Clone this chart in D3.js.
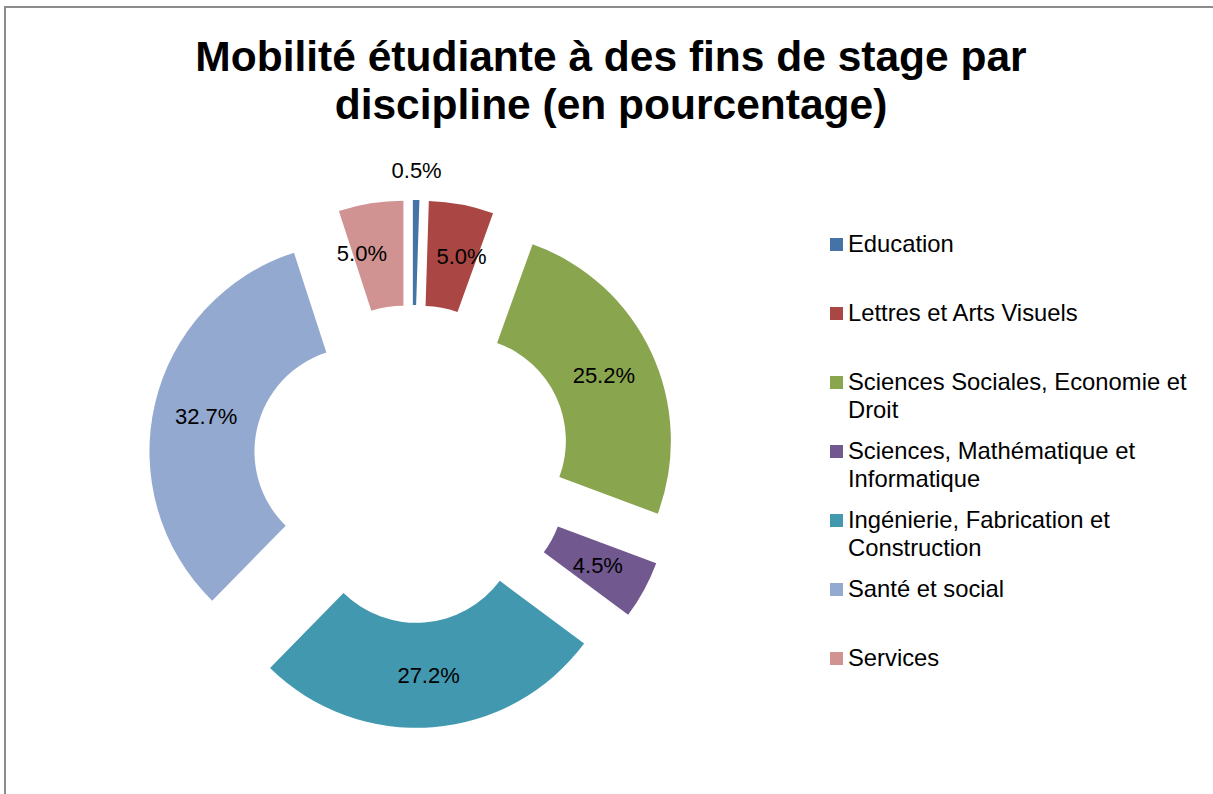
<!DOCTYPE html>
<html>
<head>
<meta charset="utf-8">
<script src="https://cdn.jsdelivr.net/npm/d3@7"></script>
<style>
  body { margin: 0; background: #fff; }
  svg { font-family: "Liberation Sans", Arial, sans-serif; }
</style>
</head>
<body>
<svg id="chart" width="1213" height="794"></svg>
<script>
// data
const categories = [
  "Education",
  "Lettres et Arts Visuels",
  "Sciences Sociales, Economie et Droit",
  "Sciences, Mathématique et Informatique",
  "Ingénierie, Fabrication et Construction",
  "Santé et social",
  "Services"
];
const values = [0.5, 5.0, 25.2, 4.5, 27.2, 32.7, 5.0];
const colors = ["#4573A7", "#AA4643", "#89A54E", "#71588F", "#4198AF", "#93A9CF", "#D19392"];
const titleLines = ["Mobilité étudiante à des fins de stage par", "discipline (en pourcentage)"];

const data = categories.map((c, i) => ({ name: c, value: values[i], color: colors[i] }));

const svg = d3.select("#chart");

// outer frame (only top and left edges show)
svg.append("rect")
  .attr("x", 5).attr("y", 7)
  .attr("width", 1300).attr("height", 1000)
  .attr("fill", "none")
  .attr("stroke", "#8c8c8c")
  .attr("stroke-width", 2);

// title
svg.append("text")
  .attr("x", 611)
  .attr("text-anchor", "middle")
  .style("font-weight", "bold")
  .style("font-size", "42.5px")
  .selectAll("tspan")
  .data(titleLines)
  .join("tspan")
    .attr("x", 611)
    .attr("y", (d, i) => 71 + i * 48)
    .text(d => d);

// exploded donut
const cx = 412, cy = 464;
const innerR = 104, outerR = 209, explode = 55;

const pie = d3.pie().sort(null).value(d => d.value);
const arc = d3.arc().innerRadius(innerR).outerRadius(outerR);
const arcs = pie(data);

const g = svg.append("g").attr("transform", `translate(${cx},${cy})`);

const offset = (d, r) => {
  const a = (d.startAngle + d.endAngle) / 2;
  return [Math.sin(a) * r, -Math.cos(a) * r];
};

const slices = g.selectAll(".slice")
  .data(arcs)
  .join("g")
    .attr("class", "slice")
    .attr("transform", d => {
      const [dx, dy] = offset(d, explode);
      return `translate(${dx},${dy})`;
    });

slices.append("path")
  .attr("d", arc)
  .attr("fill", d => d.data.color);

// Excel pushes the tiny slice label outside and nudges the two 5% ones sideways
const labelShift = { "Lettres et Arts Visuels": [10, 0], "Services": [-17, -2] };

slices.append("text")
  .attr("text-anchor", "middle")
  .attr("dy", "0.36em")
  .style("font-size", "22px")
  .attr("fill", "#000")
  .attr("transform", d => {
    let p;
    if (d.data.value < 1) {
      p = offset(d, outerR + 30);
    } else {
      p = arc.centroid(d);
      const s = labelShift[d.data.name] || [0, 0];
      p = [p[0] + s[0], p[1] + s[1]];
    }
    return `translate(${p[0]},${p[1]})`;
  })
  .text(d => d3.format(".1f")(d.data.value) + "%");

// legend
const legendX = 830, legendY = 252, legendStep = 69, lineH = 27.5, wrapW = 352;
const legend = svg.append("g").attr("class", "legend");

data.forEach((d, i) => {
  const y = legendY + i * legendStep;
  const item = legend.append("g");
  item.append("rect")
    .attr("x", legendX).attr("y", y - 14)
    .attr("width", 13).attr("height", 13)
    .attr("fill", d.color);
  const txt = item.append("text")
    .attr("x", legendX + 18).attr("y", y)
    .style("font-size", "23.8px");
  // wrap words to the legend width
  const words = d.name.split(" ");
  let line = [], lineNo = 0;
  let tspan = txt.append("tspan").attr("x", legendX + 18).attr("y", y);
  words.forEach(w => {
    line.push(w);
    tspan.text(line.join(" "));
    if (tspan.node().getComputedTextLength() > wrapW && line.length > 1) {
      line.pop();
      tspan.text(line.join(" "));
      line = [w];
      lineNo++;
      tspan = txt.append("tspan")
        .attr("x", legendX + 18)
        .attr("y", y + lineNo * lineH)
        .text(w);
    }
  });
});
</script>
</body>
</html>
